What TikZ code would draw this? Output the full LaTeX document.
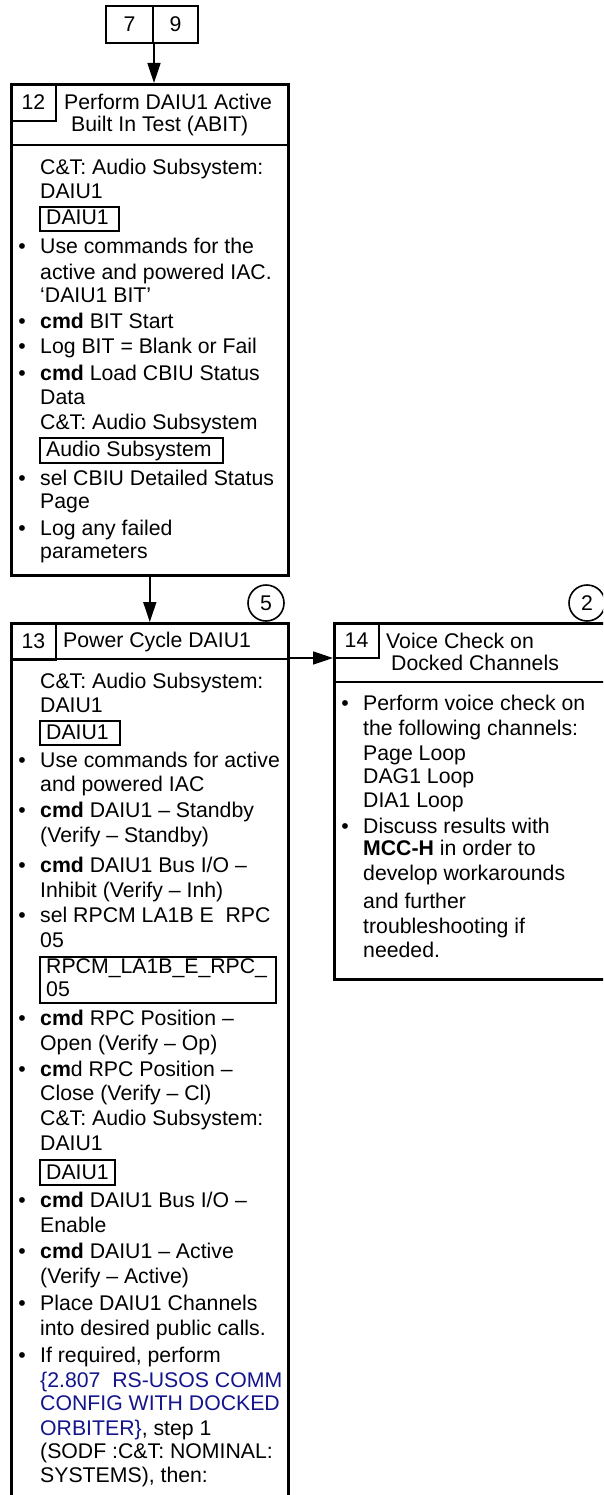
\documentclass[tikz,border=0pt]{standalone}
\usepackage{fontspec}
\setmainfont{Liberation Sans}
\usetikzlibrary{arrows.meta}
\definecolor{linkblue}{RGB}{20,20,140}
\newcommand\fs{\fontsize{21.25pt}{25pt}\selectfont}
\tikzset{
  txt/.style={anchor=base west, inner sep=0pt, font=\fs},
  bul/.style={anchor=base, inner sep=0pt, font=\fs},
  outer/.style={draw, line width=2.6pt, anchor=north west, inner sep=0pt},
  numbox/.style={draw, line width=2pt, anchor=north west, inner sep=0pt, font=\fs},
  sep/.style={line width=2.2pt},
  tbox/.style={line width=2pt},
  arr/.style={line width=1.7pt, -{Triangle[length=20pt,width=13pt]}},
  circ/.style={circle, draw, line width=1.6pt, minimum size=36pt, inner sep=0pt, font=\fs},
}
\begin{document}
\begin{tikzpicture}[x=1pt,y=-1pt]
\useasboundingbox (0,0) rectangle (603,1495);
\clip (0,0) rectangle (603,1495);
% reference boxes
\node[numbox, minimum width=47pt, minimum height=37pt] (n7) at (105,5) {7};
\node[numbox, minimum width=45pt, minimum height=37pt] (n9) at (152,5) {9};
% box 12
\node[outer, minimum width=277pt, minimum height=491pt] (b12) at (10,83) {};
\node[numbox, minimum width=45pt, minimum height=37pt] (n12) at (10,83) {12};
\draw[sep] (10,145) -- (287,145);
\node[txt] (h12a) at (64,110) {Perform DAIU1 Active};
\node[txt] (h12b) at (71,132) {Built In Test (ABIT)};
\draw[arr] (n7.south east) -- (n7.south east |- b12.north);
\node[txt] (t12a) at (40,175) {C\&T: Audio Subsystem:};
\node[txt] (t12b) at (40,199) {DAIU1};
\node[txt] (t12c) at (46,225) {DAIU1};
\draw[tbox] (40,207) rectangle (119,231);
\node[bul] (u12a) at (22,254) {•};
\node[txt] (t12d) at (40,254) {Use commands for the};
\node[txt] (t12e) at (40,280) {active and powered IAC.};
\node[txt] (t12f) at (40,303) {‘DAIU1 BIT’};
\node[bul] (u12b) at (22,328) {•};
\node[txt] (t12g) at (40,328) {\textbf{cmd} BIT Start};
\node[bul] (u12c) at (22,353) {•};
\node[txt] (t12h) at (40,353) {Log BIT = Blank or Fail};
\node[bul] (u12d) at (22,380) {•};
\node[txt] (t12i) at (40,380) {\textbf{cmd} Load CBIU Status};
\node[txt] (t12j) at (40,404) {Data};
\node[txt] (t12k) at (40,429) {C\&T: Audio Subsystem};
\node[txt] (t12l) at (46,456) {Audio Subsystem};
\draw[tbox] (40,438) rectangle (223,463);
\node[bul] (u12e) at (22,485) {•};
\node[txt] (t12m) at (40,485) {sel CBIU Detailed Status};
\node[txt] (t12n) at (40,508) {Page};
\node[bul] (u12f) at (22,535) {•};
\node[txt] (t12o) at (40,535) {Log any failed};
\node[txt] (t12p) at (40,558) {parameters};
% box 13
\node[outer, minimum width=277pt, minimum height=900pt] (b13) at (10,622) {};
\node[numbox, minimum width=45pt, minimum height=37pt] (n13) at (10,622) {13};
\draw[sep] (10,659) -- (287,659);
\node[txt] (h13) at (63,647) {Power Cycle DAIU1};
\node[circ] (c5) at (266,603) {5};
\draw[arr] (b12.south) -- (b13.north);
\node[txt] (t13a) at (40,688) {C\&T: Audio Subsystem:};
\node[txt] (t13b) at (40,712) {DAIU1};
\node[txt] (t13c) at (46,739) {DAIU1};
\draw[tbox] (40,721) rectangle (120,745);
\node[bul] (u13a) at (22,767) {•};
\node[txt] (t13d) at (40,767) {Use commands for active};
\node[txt] (t13e) at (40,791) {and powered IAC};
\node[bul] (u13b) at (22,817) {•};
\node[txt] (t13f) at (40,817) {\textbf{cmd} DAIU1 – Standby};
\node[txt] (t13g) at (40,842) {(Verify – Standby)};
\node[bul] (u13c) at (22,872) {•};
\node[txt] (t13h) at (40,872) {\textbf{cmd} DAIU1 Bus I/O –};
\node[txt] (t13i) at (40,897) {Inhibit (Verify – Inh)};
\node[bul] (u13d) at (22,922) {•};
\node[txt] (t13j) at (40,922) {sel RPCM LA1B E\ \ RPC};
\node[txt] (t13k) at (40,947) {05};
\node[txt] (t13l) at (46,973) {RPCM\_LA1B\_E\_RPC\_};
\node[txt] (t13m) at (46,996) {05};
\draw[tbox] (40,957) rectangle (276,1003);
\node[bul] (u13e) at (22,1025) {•};
\node[txt] (t13n) at (40,1025) {\textbf{cmd} RPC Position –};
\node[txt] (t13o) at (40,1050) {Open (Verify – Op)};
\node[bul] (u13f) at (22,1076) {•};
\node[txt] (t13p) at (40,1076) {\textbf{cm}d RPC Position –};
\node[txt] (t13q) at (40,1100) {Close (Verify – Cl)};
\node[txt] (t13r) at (40,1125) {C\&T: Audio Subsystem:};
\node[txt] (t13s) at (40,1150) {DAIU1};
\node[txt] (t13t) at (46,1179) {DAIU1};
\draw[tbox] (40,1160) rectangle (115,1185);
\node[bul] (u13g) at (22,1207) {•};
\node[txt] (t13u) at (40,1207) {\textbf{cmd} DAIU1 Bus I/O –};
\node[txt] (t13v) at (40,1232) {Enable};
\node[bul] (u13h) at (22,1258) {•};
\node[txt] (t13w) at (40,1258) {\textbf{cmd} DAIU1 – Active};
\node[txt] (t13x) at (40,1283) {(Verify – Active)};
\node[bul] (u13i) at (22,1310) {•};
\node[txt] (t13y) at (40,1310) {Place DAIU1 Channels};
\node[txt] (t13z) at (40,1335) {into desired public calls.};
\node[bul] (u13j) at (22,1362) {•};
\node[txt] (t13aa) at (40,1362) {If required, perform};
\node[txt, text=linkblue] (t13ab) at (40,1387) {\{2.807\ \ RS-USOS COMM};
\node[txt, text=linkblue] (t13ac) at (40,1410) {CONFIG WITH DOCKED};
\node[txt] (t13ad) at (40,1435) {\textcolor{linkblue}{ORBITER\}}, step 1};
\node[txt] (t13ae) at (40,1458) {(SODF :C\&T: NOMINAL:};
\node[txt] (t13af) at (40,1482) {SYSTEMS), then:};
% box 14
\node[outer, minimum width=310pt, minimum height=356pt] (b14) at (333,622) {};
\node[numbox, minimum width=45pt, minimum height=35pt] (n14) at (333,622) {14};
\draw[sep] (333,682) -- (643,682);
\node[txt] (h14a) at (386,648) {Voice Check on};
\node[txt] (h14b) at (391,670) {Docked Channels};
\node[circ] (c2) at (587,603) {2};
\coordinate (a13) at (287,658);
\draw[arr] (a13) -- (a13 -| b14.west);
\node[bul] (u14a) at (345,710) {•};
\node[txt] (t14a) at (363,710) {Perform voice check on};
\node[txt] (t14b) at (363,735) {the following channels:};
\node[txt] (t14c) at (363,760) {Page Loop};
\node[txt] (t14d) at (363,783) {DAG1 Loop};
\node[txt] (t14e) at (363,807) {DIA1 Loop};
\node[bul] (u14b) at (345,833) {•};
\node[txt] (t14f) at (363,833) {Discuss results with};
\node[txt] (t14g) at (363,855) {\textbf{MCC-H} in order to};
\node[txt] (t14h) at (363,880) {develop workarounds};
\node[txt] (t14i) at (363,908) {and further};
\node[txt] (t14j) at (363,933) {troubleshooting if};
\node[txt] (t14k) at (363,957) {needed.};
\end{tikzpicture}
\end{document}
